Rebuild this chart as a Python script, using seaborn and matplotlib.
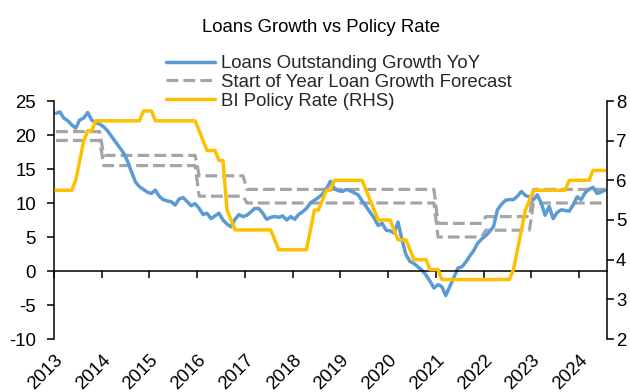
import matplotlib
matplotlib.use("Agg")
import matplotlib.pyplot as plt
import matplotlib.dates as mdates
import numpy as np
import pandas as pd
import seaborn as sns

# ---------------- data (monthly, Jan 2013 - Jul 2024) ----------------
start_month = "2013-01"

loan_growth = [
    23.2, 23.4, 22.5, 22.1, 21.5, 21.0, 22.2, 22.5, 23.3, 22.2, 21.8, 21.6,   # 2013
    21.2, 20.6, 19.8, 19.0, 18.2, 17.4, 16.2, 14.6, 13.1, 12.4, 12.0, 11.6,   # 2014
    11.4, 11.9, 11.0, 10.5, 10.3, 10.2, 9.7, 10.6, 10.8, 10.2, 9.6, 9.9,      # 2015
    9.2, 8.3, 8.5, 7.7, 8.1, 8.5, 7.5, 6.9, 6.5, 7.6, 8.3, 8.0,              # 2016
    8.2, 8.7, 9.2, 9.2, 8.5, 7.6, 7.9, 8.0, 7.9, 8.1, 7.5, 8.0,              # 2017
    7.6, 8.3, 8.7, 9.2, 10.0, 10.4, 10.8, 11.3, 12.1, 13.2, 12.1, 11.8,      # 2018
    11.7, 12.0, 11.8, 11.5, 11.2, 10.3, 9.5, 8.6, 7.8, 6.7, 7.0, 6.0,        # 2019
    5.9, 5.6, 7.2, 4.6, 2.4, 1.4, 1.1, 0.6, 0.1, -0.6, -1.5, -2.5,           # 2020
    -2.0, -2.3, -3.6, -2.3, -1.0, 0.4, 0.6, 1.3, 2.2, 3.0, 4.1, 4.7,         # 2021
    5.2, 5.8, 6.5, 9.0, 9.8, 10.4, 10.5, 10.5, 11.0, 11.7, 11.1, 10.9,       # 2022
    10.5, 11.2, 10.0, 8.2, 9.5, 7.7, 8.6, 9.0, 8.9, 8.8, 9.7, 10.9,          # 2023
    10.5, 11.5, 12.0, 12.3, 11.4, 11.6, 11.9,                                # 2024
]

policy_rate = [
    5.75, 5.75, 5.75, 5.75, 5.75, 6.0, 6.5, 7.0, 7.25, 7.25, 7.5, 7.5,       # 2013
    7.5, 7.5, 7.5, 7.5, 7.5, 7.5, 7.5, 7.5, 7.5, 7.5, 7.75, 7.75,            # 2014
    7.75, 7.5, 7.5, 7.5, 7.5, 7.5, 7.5, 7.5, 7.5, 7.5, 7.5, 7.5,             # 2015
    7.25, 7.0, 6.75, 6.75, 6.75, 6.5, 6.5, 5.25, 5.0, 4.75, 4.75, 4.75,      # 2016
    4.75, 4.75, 4.75, 4.75, 4.75, 4.75, 4.75, 4.5, 4.25, 4.25, 4.25, 4.25,   # 2017
    4.25, 4.25, 4.25, 4.25, 4.75, 5.25, 5.25, 5.5, 5.75, 5.75, 6.0, 6.0,     # 2018
    6.0, 6.0, 6.0, 6.0, 6.0, 6.0, 5.75, 5.5, 5.25, 5.0, 5.0, 5.0,            # 2019
    5.0, 4.75, 4.5, 4.5, 4.5, 4.25, 4.0, 4.0, 4.0, 4.0, 3.75, 3.75,          # 2020
    3.75, 3.5, 3.5, 3.5, 3.5, 3.5, 3.5, 3.5, 3.5, 3.5, 3.5, 3.5,             # 2021
    3.5, 3.5, 3.5, 3.5, 3.5, 3.5, 3.5, 3.75, 4.25, 4.75, 5.25, 5.5,          # 2022
    5.75, 5.75, 5.75, 5.75, 5.75, 5.75, 5.75, 5.75, 5.75, 6.0, 6.0, 6.0,     # 2023
    6.0, 6.0, 6.0, 6.25, 6.25, 6.25, 6.25,                                   # 2024
]

forecast_years = [2013, 2014, 2015, 2016, 2017, 2018, 2019, 2020, 2021, 2022, 2023, 2024]
forecast_high = [20.5, 17.0, 17.0, 14.0, 12.0, 12.0, 12.0, 12.0, 7.0, 8.0, 12.0, 12.0]
forecast_low = [19.2, 15.5, 15.5, 11.0, 10.0, 10.0, 10.0, 10.0, 5.0, 6.0, 10.0, 10.0]

title = "Loans Growth vs Policy Rate"
label_loans = "Loans Outstanding Growth YoY"
label_fc = "Start of Year Loan Growth Forecast"
label_rate = "BI Policy Rate (RHS)"

# ---------------- build table ----------------
periods = pd.period_range(start_month, periods=len(loan_growth), freq="M")
mid_dates = periods.start_time + (periods.end_time - periods.start_time) / 2
hi_map = dict(zip(forecast_years, forecast_high))
lo_map = dict(zip(forecast_years, forecast_low))
df = pd.DataFrame({
    "date": mid_dates,
    "loans": loan_growth,
    "rate": policy_rate,
    "fc_high": [hi_map[p.year] for p in periods],
    "fc_low": [lo_map[p.year] for p in periods],
})

# ---------------- style ----------------
sns.set_style("white")
plt.rcParams["font.family"] = ["Liberation Sans", "DejaVu Sans"]
plt.rcParams["axes.unicode_minus"] = False
text_col = "#000000"
FS = 13.4

BLUE = "#5B9BD5"
GREY = "#A5A5A5"
GOLD = "#FFC000"

fig = plt.figure(figsize=(6.3, 3.92), dpi=100)
ax = fig.add_axes([54 / 630, 1 - 339 / 392, (607 - 54) / 630, (339 - 101) / 392])
ax2 = ax.twinx()

sns.lineplot(data=df, x="date", y="fc_high", ax=ax, color=GREY, lw=2.3, linestyle="--")
sns.lineplot(data=df, x="date", y="fc_low", ax=ax, color=GREY, lw=2.3, linestyle="--")
sns.lineplot(data=df, x="date", y="loans", ax=ax, color=BLUE, lw=2.5)
sns.lineplot(data=df, x="date", y="rate", ax=ax2, color=GOLD, lw=2.5)

ax.set_xlim(pd.Timestamp("2013-01-01"), pd.Timestamp("2024-08-01"))
ax.set_ylim(-10, 25)
ax.set_yticks(np.arange(-10, 26, 5))
ax2.set_ylim(2, 8)
ax2.set_yticks(np.arange(2, 9, 1))
ax.set_xlabel("")
ax.set_ylabel("")
ax2.set_xlabel("")
ax2.set_ylabel("")

ax.xaxis.set_major_locator(mdates.YearLocator())
ax.xaxis.set_major_formatter(mdates.DateFormatter("%Y"))

# spines
for s in ["top", "right"]:
    ax.spines[s].set_visible(False)
for s in ["top", "left", "bottom"]:
    ax2.spines[s].set_visible(False)
ax.spines["bottom"].set_position(("data", 0))
for sp in [ax.spines["left"], ax.spines["bottom"], ax2.spines["right"]]:
    sp.set_color("#000000")
    sp.set_linewidth(1.1)

ax.tick_params(axis="x", which="both", bottom=True, top=False, direction="out",
               length=5, width=1.1, color="#000000", labelbottom=False)
ax.tick_params(axis="y", left=True, right=False, direction="out", length=5, width=1.1,
               color="#000000", pad=8, labelsize=FS, labelcolor=text_col)
ax2.tick_params(axis="y", right=True, left=False, direction="out", length=5, width=1.1,
                color="#000000", pad=1.5, labelsize=FS, labelcolor=text_col)

# year labels at the bottom of the plot area (via the twin's x axis)
ax2.xaxis.set_visible(True)
ax2.tick_params(axis="x", which="both", bottom=True, top=False, labelbottom=True,
                length=0, pad=9, labelsize=FS, labelcolor=text_col)
plt.setp(ax2.get_xticklabels(), rotation=45, ha="right", va="top", rotation_mode="anchor")

for a in (ax, ax2):
    a.grid(False)
    if a.get_legend() is not None:
        a.get_legend().remove()

# legend
lines = ax.get_lines()
h_fc = lines[0]
h_loans = lines[2]
h_rate = ax2.get_lines()[0]
fig.legend([h_loans, h_fc, h_rate], [label_loans, label_fc, label_rate],
           loc="upper left", bbox_to_anchor=(166 / 630, 1 - 55 / 392),
           frameon=False, fontsize=FS, handlelength=2.65, handletextpad=0.3,
           labelspacing=0.1, borderpad=0, borderaxespad=0)

fig.text(321.5 / 630, 1 - 27 / 392, title, ha="center", va="center", fontsize=FS, color=text_col)

fig.savefig("out.png", dpi=100)
